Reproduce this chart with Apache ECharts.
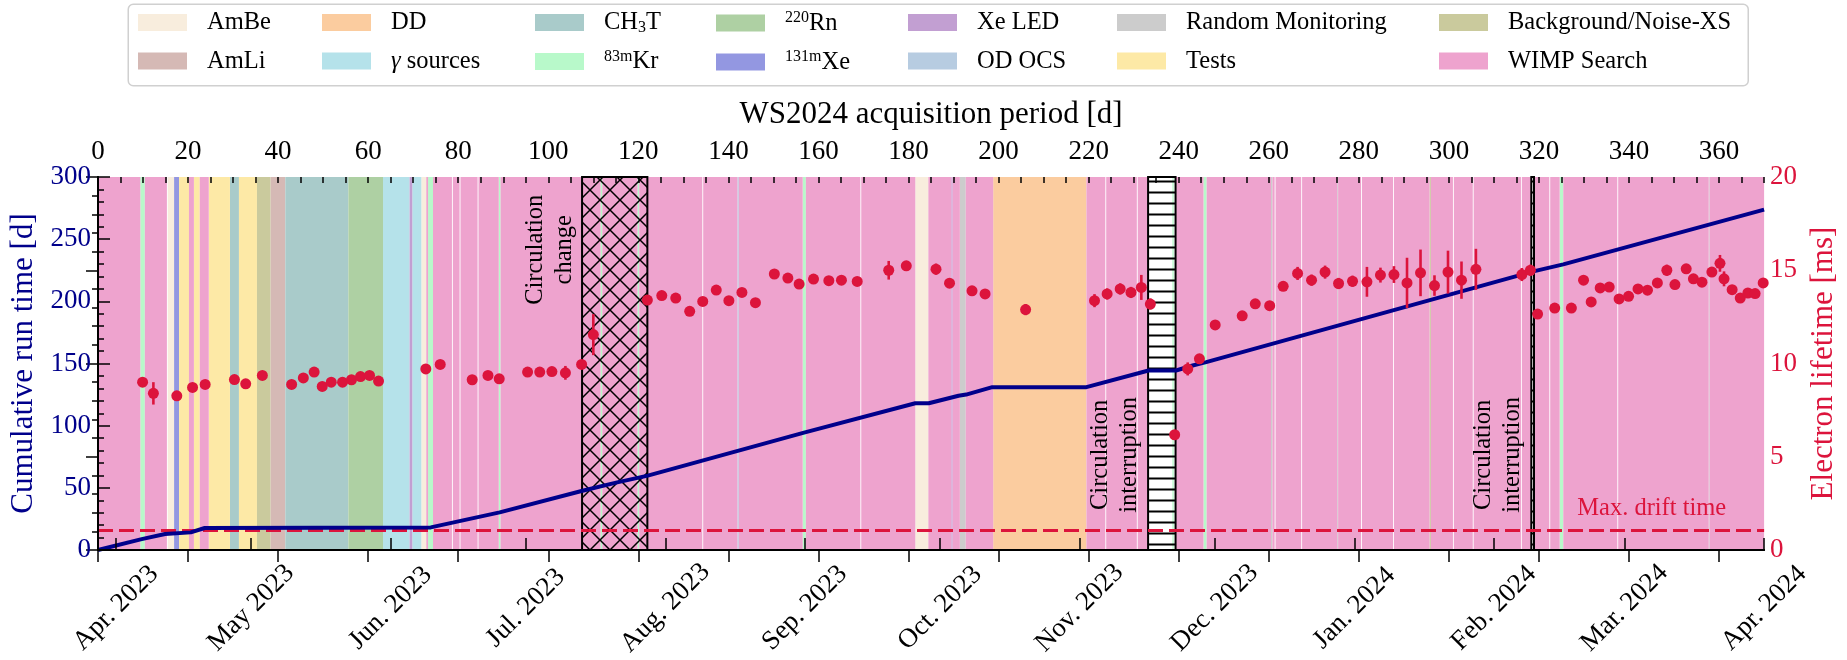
<!DOCTYPE html>
<html>
<head>
<meta charset="utf-8">
<script src="https://cdn.jsdelivr.net/npm/echarts@6.0.0/dist/echarts.min.js"></script>
<style>
  html, body { margin: 0; padding: 0; background: #fff; }
  #chart { width: 1847px; height: 660px; }
</style>
</head>
<body>
<div id="chart"></div>
<script>
// ---------------------------------------------------------------------------
// WS2024 acquisition period: calibration / search campaigns, cumulative
// WIMP-search live time and electron lifetime.
// Day 0 of the acquisition period is 2023-03-28.
// ---------------------------------------------------------------------------
const RUN_START = Date.UTC(2023, 2, 28);
const PERIOD_DAYS = 370;

// Calendar ticks along the bottom axis
const monthStarts = [[2023, 3], [2023, 4], [2023, 5], [2023, 6], [2023, 7], [2023, 8], [2023, 9],
                     [2023, 10], [2023, 11], [2024, 0], [2024, 1], [2024, 2], [2024, 3]];
const monthLabels = ['Apr. 2023', 'May 2023', 'Jun. 2023', 'Jul. 2023', 'Aug. 2023', 'Sep. 2023',
                     'Oct. 2023', 'Nov. 2023', 'Dec. 2023', 'Jan. 2024', 'Feb. 2024', 'Mar. 2024', 'Apr. 2024'];

// Campaign spans, [start day, end day]
const spansAmBe = [[15.5, 16.9], [71.8, 72.9], [181.5, 184.4]];
const spansAmLi = [[38.3, 41.6]];
const spansDD = [[198.8, 219.5]];
const spansGamma = [[63.3, 69.2], [69.8, 71.8]];
const spansCH3T = [[29.3, 31.3], [41.6, 55.6]];
const spansKr83m = [[9.4, 10.4], [73.3, 74.4], [89.0, 89.4], [111.6, 112.0], [119.8, 120.2],
                    [156.5, 157.2], [238.6, 238.9], [245.5, 246.2], [324.6, 325.4]];
const spansRn220 = [[55.6, 63.3]];
const spansXe131m = [[16.9, 18.0]];
const spansXeLED = [[69.2, 69.8], [189.5, 189.8]];
const spansODOCS = [[142.0, 142.3]];
const spansRandom = [[191.4, 192.7], [260.5, 260.8], [275.2, 275.4], [357.7, 357.9]];
const spansTests = [[18.0, 20.2], [21.3, 22.6], [24.6, 29.3], [31.3, 35.3]];
const spansBackground = [[35.3, 38.3], [295.7, 296.0]];
const spansWIMP = [[0, 9.4], [10.4, 15.3], [20.2, 21.3], [22.6, 24.6], [72.9, 73.3], [74.4, 78.6],
  [78.8, 80.3], [80.5, 84.3], [84.5, 89.0], [89.4, 111.6], [112.0, 119.8], [120.2, 134.2],
  [134.4, 142.0], [142.3, 156.5], [157.2, 169.3], [169.5, 181.5], [184.4, 189.5], [189.8, 191.4],
  [192.7, 198.8], [219.5, 223.7], [223.9, 230.7], [230.9, 233.2], [239.3, 245.5], [246.2, 260.5],
  [260.8, 261.3], [261.5, 267.2], [267.4, 275.2], [275.4, 280.5], [280.7, 287.6], [287.8, 295.7],
  [296.0, 300.9], [301.1, 305.3], [305.5, 316.0], [316.2, 318.3], [318.9, 322.3], [322.5, 324.6],
  [325.4, 337.4], [337.6, 357.7], [357.9, 370]];

// Xenon circulation change / interruptions, [start day, end day]
const circulationChange = [[107.5, 122.0]];
const circulationInterruptions = [[233.2, 239.3], [318.3, 318.9]];

// Cumulative WIMP-search run time, [day, days]
const cumulativeRunTime = [[0, 0], [9.7, 8.8], [14.9, 12.9], [20.6, 14.2], [23.7, 17.7], [73.9, 18.2],
  [89.2, 30.3], [107.6, 47.7], [115.3, 54.4], [122.1, 59.8], [157.0, 94.6], [181.5, 118.0],
  [184.5, 118.0], [191.1, 124.1], [192.8, 125.0], [198.6, 131.0], [219.5, 131.0], [233.3, 144.4],
  [239.4, 144.4], [243.3, 148.6], [246.1, 151.1], [319.0, 224.3], [325.4, 229.7], [370, 273.8]];

// Electron lifetime, [day, lifetime ms, uncertainty ms]
const electronLifetime = [
  [9.9, 9.0, 0.15], [12.3, 8.4, 0.6], [17.5, 8.27, 0.15], [21.0, 8.72, 0.15], [23.8, 8.88, 0.15],
  [30.3, 9.14, 0.15], [32.8, 8.91, 0.15], [36.5, 9.36, 0.15], [43.0, 8.88, 0.15], [45.6, 9.23, 0.15],
  [48.0, 9.54, 0.15], [49.8, 8.77, 0.15], [51.8, 9.0, 0.15], [54.3, 9.0, 0.15], [56.3, 9.13, 0.15],
  [58.3, 9.3, 0.15], [60.3, 9.36, 0.15], [62.3, 9.06, 0.15], [72.8, 9.71, 0.15], [76.0, 9.95, 0.15],
  [83.1, 9.13, 0.15], [86.6, 9.36, 0.15], [89.1, 9.18, 0.15], [95.4, 9.54, 0.15], [98.1, 9.54, 0.15],
  [100.8, 9.57, 0.15], [103.8, 9.5, 0.37], [107.4, 9.95, 0.15], [110.0, 11.55, 1.1],
  [122.0, 13.4, 0.2], [125.2, 13.64, 0.15], [128.3, 13.51, 0.15], [131.4, 12.8, 0.15],
  [134.3, 13.33, 0.15], [137.3, 13.94, 0.15], [140.1, 13.37, 0.15], [143.0, 13.81, 0.15],
  [146.0, 13.26, 0.15], [150.2, 14.8, 0.2], [153.2, 14.58, 0.15], [155.7, 14.26, 0.15],
  [158.9, 14.53, 0.15], [162.3, 14.44, 0.15], [165.1, 14.47, 0.15], [168.6, 14.4, 0.15],
  [175.6, 15.0, 0.5], [179.5, 15.24, 0.25], [186.1, 15.06, 0.3], [189.1, 14.31, 0.15],
  [194.1, 13.9, 0.2], [197.0, 13.73, 0.15], [206.0, 12.89, 0.3], [221.3, 13.37, 0.35],
  [224.1, 13.73, 0.3], [227.0, 14.0, 0.3], [229.4, 13.81, 0.3], [231.7, 14.08, 0.67],
  [233.7, 13.19, 0.3], [239.1, 6.18, 0.15], [242.0, 9.71, 0.35], [244.6, 10.25, 0.25],
  [248.1, 12.07, 0.15], [254.1, 12.56, 0.15], [257.0, 13.2, 0.2], [260.2, 13.1, 0.15],
  [263.2, 14.14, 0.25], [266.4, 14.83, 0.35], [269.5, 14.47, 0.3], [272.5, 14.9, 0.35],
  [275.5, 14.29, 0.3], [278.6, 14.41, 0.3], [281.8, 14.38, 0.8], [284.8, 14.74, 0.4],
  [287.8, 14.77, 0.45], [290.7, 14.32, 1.35], [293.7, 14.86, 1.25], [296.8, 14.18, 0.55],
  [299.8, 14.9, 1.15], [302.8, 14.47, 1.0], [306.0, 15.05, 1.1], [316.2, 14.77, 0.35],
  [318.1, 15.0, 0.3], [319.7, 12.65, 0.15], [323.5, 12.97, 0.15], [327.2, 12.97, 0.15],
  [329.9, 14.47, 0.15], [331.6, 13.3, 0.15], [333.6, 14.05, 0.2], [335.6, 14.1, 0.2],
  [337.8, 13.46, 0.15], [339.9, 13.6, 0.15], [342.0, 14.0, 0.15], [344.1, 13.93, 0.15],
  [346.3, 14.32, 0.15], [348.4, 15.0, 0.3], [350.2, 14.23, 0.25], [352.7, 15.08, 0.25],
  [354.3, 14.54, 0.15], [356.2, 14.36, 0.15], [358.4, 14.9, 0.25], [360.2, 15.37, 0.45],
  [361.1, 14.54, 0.4], [362.9, 13.96, 0.15], [364.7, 13.51, 0.15], [366.4, 13.78, 0.15],
  [368.0, 13.75, 0.15], [369.8, 14.32, 0.15]];

// Maximum electron drift time in the TPC, ms
const maxDriftTime = 1.05;

// ---------------------------------------------------------------------------
const FONT = 'Liberation Serif';
const NAVY = '#00008B';
const CRIMSON = '#DC143C';

const monthDays = monthStarts.map(([y, m]) => Math.round((Date.UTC(y, m, 1) - RUN_START) / 86400000));

const campaigns = [
  { name: 'AmBe', color: '#F8EDDD', spans: spansAmBe },
  { name: 'AmLi', color: '#D5B9B5', spans: spansAmLi },
  { name: 'DD', color: '#FBCC9F', spans: spansDD },
  { name: 'γ sources', color: '#B5E2EA', spans: spansGamma },
  { name: 'CH3T', color: '#A9CBCA', spans: spansCH3T },
  { name: '83mKr', color: '#B8F9CA', spans: spansKr83m },
  { name: '220Rn', color: '#AED0A3', spans: spansRn220 },
  { name: '131mXe', color: '#9397E1', spans: spansXe131m },
  { name: 'Xe LED', color: '#C29FD2', spans: spansXeLED },
  { name: 'OD OCS', color: '#B7CCE1', spans: spansODOCS },
  { name: 'Random Monitoring', color: '#CCCCCC', spans: spansRandom },
  { name: 'Tests', color: '#FDE9A6', spans: spansTests },
  { name: 'Background/Noise-XS', color: '#CACA9D', spans: spansBackground },
  { name: 'WIMP Search', color: '#EEA3CE', spans: spansWIMP }
];

// legend label markup (isotope superscripts, chemical subscript, math gamma)
const legendMarkup = {
  'γ sources': '{gi|γ}{n| sources}',
  'CH3T': '{n|CH}{sub|3}{n|T}',
  '83mKr': '{sup|83m}{n|Kr}',
  '220Rn': '{sup|220}{n|Rn}',
  '131mXe': '{sup|131m}{n|Xe}'
};
const legendColumns = [
  ['AmBe', 'AmLi'], ['DD', 'γ sources'], ['CH3T', '83mKr'], ['220Rn', '131mXe'],
  ['Xe LED', 'OD OCS'], ['Random Monitoring', 'Tests'], ['Background/Noise-XS', 'WIMP Search']
];
const legendColumnLeft = [138, 322, 535, 716, 908, 1117, 1439];

// rotated / inline notes, anchored in (day, lifetime ms)
const notes = [
  { at: [100.3, 16.1], text: 'Circulation\nchange', rotate: true, color: '#000', align: 'center' },
  { at: [225.8, 5.1], text: 'Circulation\ninterruption', rotate: true, color: '#000', align: 'center' },
  { at: [311.0, 5.1], text: 'Circulation\ninterruption', rotate: true, color: '#000', align: 'center' },
  { at: [328.5, 2.2], text: 'Max. drift time', rotate: false, color: CRIMSON, align: 'left' }
];

// ---------------------------------------------------------------------------
function makeHatch(kind) {
  const c = document.createElement('canvas');
  const g = c.getContext('2d');
  if (kind === 'cross') {
    c.width = 20; c.height = 20;
    g.strokeStyle = '#000'; g.lineWidth = 1.5;
    g.beginPath();
    g.moveTo(-1, -1); g.lineTo(21, 21);
    g.moveTo(21, -1); g.lineTo(-1, 21);
    g.stroke();
  } else {
    c.width = 8; c.height = 11;
    g.fillStyle = '#000';
    g.fillRect(0, 4.5, 8, 2);
  }
  return c;
}
const crossHatch = makeHatch('cross');
const ladderHatch = makeHatch('ladder');

function renderSpan(params, api) {
  const cs = params.coordSys;
  const a = api.coord([api.value(0), 0])[0];
  const b = api.coord([api.value(1), 0])[0];
  return {
    type: 'rect',
    shape: { x: a, y: cs.y, width: Math.max(b - a, 0.6), height: cs.height },
    style: { fill: api.visual('color') }
  };
}

function hatchRenderer(pattern) {
  return function (params, api) {
    const cs = params.coordSys;
    const a = api.coord([api.value(0), 0])[0];
    const b = api.coord([api.value(1), 0])[0];
    return {
      type: 'rect',
      shape: { x: a, y: cs.y, width: b - a, height: cs.height },
      style: { fill: { image: pattern, repeat: 'repeat' }, stroke: '#000', lineWidth: 2 }
    };
  };
}

function renderErrorBar(params, api) {
  const d = api.value(0), v = api.value(1), e = api.value(2);
  const lo = api.coord([d, v - e]);
  const hi = api.coord([d, v + e]);
  return {
    type: 'line',
    shape: { x1: lo[0], y1: lo[1], x2: hi[0], y2: hi[1] },
    style: { stroke: CRIMSON, lineWidth: 2.6 }
  };
}

function renderNote(params, api) {
  const note = notes[params.dataIndex];
  const p = api.coord([api.value(0), api.value(1)]);
  return {
    type: 'text',
    x: p[0], y: p[1],
    rotation: note.rotate ? Math.PI / 2 : 0,
    style: {
      text: note.text,
      fill: note.color,
      font: '24.5px "' + FONT + '"',
      lineHeight: 29,
      align: note.align,
      verticalAlign: 'middle'
    }
  };
}

// ---------------------------------------------------------------------------
const GRID = { left: 98, right: 73.5, top: 177, bottom: 109 };

const tickLine = { color: '#000', width: 1.5 };
const frameLine = { show: true, lineStyle: { color: '#000', width: 2 } };

const spanSeries = campaigns.map(c => ({
  name: c.name,
  type: 'custom',
  xAxisIndex: 1,
  yAxisIndex: 0,
  renderItem: renderSpan,
  itemStyle: { color: c.color },
  data: c.spans,
  silent: true,
  z: 1
}));

const legendRich = {
  gap: { width: 15, fontSize: 24.5, lineHeight: 26 },
  n: { fontFamily: FONT, fontSize: 24.5, lineHeight: 26, color: '#000', verticalAlign: 'bottom' },
  gi: { fontFamily: FONT, fontSize: 24.5, lineHeight: 26, color: '#000', fontStyle: 'italic', verticalAlign: 'bottom' },
  sup: { fontFamily: FONT, fontSize: 16, lineHeight: 16, color: '#000', verticalAlign: 'top' },
  sub: { fontFamily: FONT, fontSize: 16, lineHeight: 16, color: '#000', verticalAlign: 'bottom' }
};

const legends = legendColumns.map((names, i) => ({
  data: names,
  orient: 'vertical',
  left: legendColumnLeft[i],
  top: 10,
  padding: 0,
  itemGap: 13,
  itemWidth: 49,
  itemHeight: 17,
  icon: 'rect',
  selectedMode: false,
  formatter: name => '{gap| }' + (legendMarkup[name] || '{n|' + name + '}'),
  textStyle: { fontFamily: FONT, fontSize: 24.5, color: '#000', rich: legendRich }
}));

const option = {
  animation: false,
  backgroundColor: '#fff',
  textStyle: { fontFamily: FONT },
  graphic: [{
    type: 'rect',
    left: 127.5, top: 3.5,
    shape: { width: 1620, height: 81.5, r: 5 },
    style: { fill: '#fff', stroke: '#d0d0d0', lineWidth: 1.5 },
    z: 0, silent: true
  }],
  legend: legends,
  grid: GRID,
  xAxis: [
    { // acquisition day, labelled on top
      type: 'value', position: 'top', min: 0, max: PERIOD_DAYS, interval: 20,
      name: 'WS2024 acquisition period [d]', nameLocation: 'middle', nameGap: 47,
      nameTextStyle: { fontFamily: FONT, fontSize: 31, color: '#000' },
      axisLine: frameLine,
      axisTick: { show: true, inside: true, length: 12, lineStyle: tickLine },
      axisLabel: { fontFamily: FONT, fontSize: 27, color: '#000', margin: 12, showMaxLabel: false },
      splitLine: { show: false },
      z: 10
    },
    { // calendar months along the bottom
      type: 'value', position: 'bottom', min: 0, max: PERIOD_DAYS,
      axisLine: frameLine,
      axisTick: { show: true, inside: true, length: 12, customValues: monthDays, lineStyle: tickLine },
      axisLabel: {
        customValues: monthDays,
        formatter: v => monthLabels[monthDays.indexOf(v)],
        rotate: 45, align: 'center', verticalAlign: 'middle', margin: 58,
        showMinLabel: true, showMaxLabel: true,
        fontFamily: FONT, fontSize: 27, color: '#000'
      },
      splitLine: { show: false },
      z: 10
    },
    { // 5-day minor ticks on top
      type: 'value', position: 'top', min: 0, max: PERIOD_DAYS, interval: 5,
      axisLine: { show: false },
      axisTick: { show: true, inside: true, length: 6, lineStyle: tickLine },
      axisLabel: { show: false },
      splitLine: { show: false },
      z: 10
    }
  ],
  yAxis: [
    {
      type: 'value', position: 'left', min: 0, max: 300, interval: 50,
      name: 'Cumulative run time [d]', nameLocation: 'middle', nameGap: 51, nameRotate: 90,
      nameTextStyle: { fontFamily: FONT, fontSize: 31, color: NAVY },
      axisLine: frameLine,
      axisTick: { show: true, inside: true, length: 12, lineStyle: tickLine },
      minorTick: { show: true, splitNumber: 5, length: 6, lineStyle: tickLine },
      axisLabel: { fontFamily: FONT, fontSize: 27, color: NAVY, margin: 7 },
      splitLine: { show: false },
      z: 10
    },
    {
      type: 'value', position: 'right', min: 0, max: 20, interval: 5,
      name: 'Electron lifetime [ms]', nameLocation: 'middle', nameGap: 39, nameRotate: 90,
      nameTextStyle: { fontFamily: FONT, fontSize: 31, color: CRIMSON },
      axisLine: frameLine,
      axisTick: { show: true, inside: true, length: 12, lineStyle: tickLine },
      minorTick: { show: true, splitNumber: 5, length: 6, lineStyle: tickLine },
      axisLabel: { fontFamily: FONT, fontSize: 27, color: CRIMSON, margin: 6 },
      splitLine: { show: false },
      z: 10
    }
  ],
  series: [
    ...spanSeries,
    {
      name: 'Circulation change',
      type: 'custom', xAxisIndex: 1, yAxisIndex: 0,
      renderItem: hatchRenderer(crossHatch),
      data: circulationChange, silent: true, z: 3
    },
    {
      name: 'Circulation interruption',
      type: 'custom', xAxisIndex: 1, yAxisIndex: 0,
      renderItem: hatchRenderer(ladderHatch),
      data: circulationInterruptions, silent: true, z: 3
    },
    {
      name: 'Max. drift time',
      type: 'line', xAxisIndex: 1, yAxisIndex: 1,
      data: [[0, maxDriftTime], [PERIOD_DAYS, maxDriftTime]],
      symbol: 'none',
      lineStyle: { color: CRIMSON, width: 3, type: [15, 6] },
      silent: true, z: 4
    },
    {
      name: 'Cumulative run time',
      type: 'line', xAxisIndex: 1, yAxisIndex: 0,
      data: cumulativeRunTime,
      symbol: 'none',
      lineStyle: { color: NAVY, width: 4 },
      silent: true, z: 5
    },
    {
      name: 'Electron lifetime uncertainty',
      type: 'custom', xAxisIndex: 1, yAxisIndex: 1,
      renderItem: renderErrorBar,
      data: electronLifetime, silent: true, z: 6
    },
    {
      name: 'Electron lifetime',
      type: 'scatter', xAxisIndex: 1, yAxisIndex: 1,
      data: electronLifetime.map(r => [r[0], r[1]]),
      symbol: 'circle', symbolSize: 11,
      itemStyle: { color: CRIMSON, opacity: 1 },
      silent: true, z: 7
    },
    {
      name: 'notes',
      type: 'custom', xAxisIndex: 1, yAxisIndex: 1,
      renderItem: renderNote,
      data: notes.map(n => n.at), silent: true, z: 8
    }
  ]
};

const chart = echarts.init(document.getElementById('chart'));
chart.setOption(option);
</script>
</body>
</html>
